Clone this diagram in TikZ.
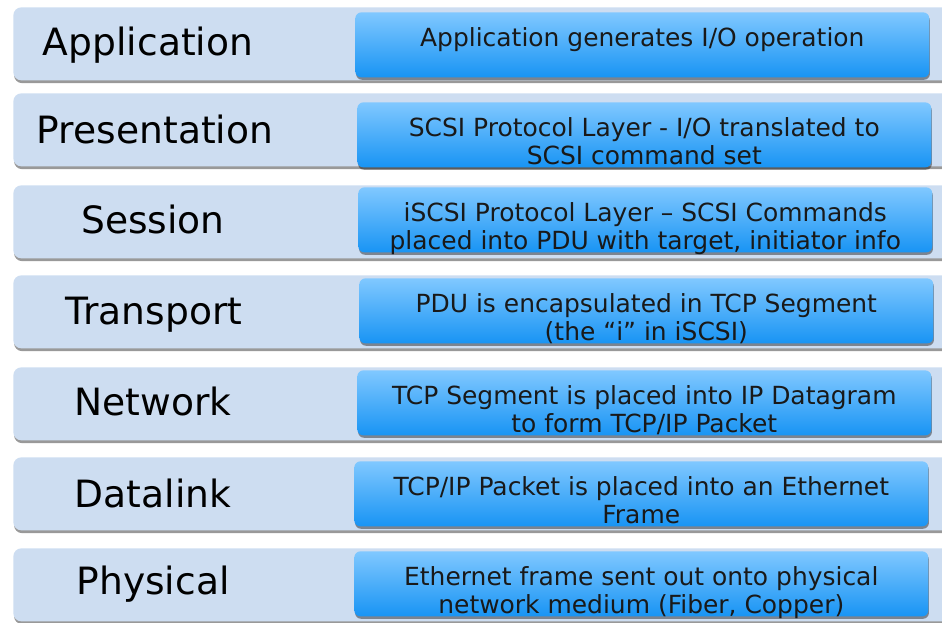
\documentclass[tikz,border=0pt]{standalone}
\usepackage{fontspec}
\setmainfont{DejaVu Sans}
\usepackage{tikz}
\usetikzlibrary{positioning,shadows}

\definecolor{layerfill}{RGB}{205,221,241}
\definecolor{boxtop}{RGB}{128,200,255}
\definecolor{boxbottom}{RGB}{24,148,244}

\tikzset{
  layerbox/.style={anchor=north west, fill=layerfill, rounded corners=0.16cm,
    minimum width=19.6cm, minimum height=1.46cm,
    drop shadow={shadow xshift=0.4pt, shadow yshift=-1.6pt, fill=black, opacity=0.4}},
  layername/.style={font=\fontsize{21.4}{24}\selectfont, inner sep=0pt, anchor=base},
  descbox/.style={anchor=north west, top color=boxtop, bottom color=boxbottom,
    rounded corners=0.12cm, minimum width=11.48cm, minimum height=1.3cm,
    drop shadow={shadow xshift=0.4pt, shadow yshift=-1.4pt, fill=black, opacity=0.4}},
  desctext/.style={font=\fontsize{14.2}{16}\selectfont, align=center, inner sep=0pt, text=black!90}
}

\begin{document}
\begin{tikzpicture}[x=0.02cm, y=-0.02cm]
\useasboundingbox (0,0) rectangle (942,622);

%% layer 1
\node[layerbox] (app) at (13,7) {};
\node[layername] (appname) at (148,55) {Application};
\node[descbox] (appbox) at (355,12) {};
\node[desctext, below=8.5pt of appbox.north] (apptext) {Application generates I/O operation};

%% layer 2
\node[layerbox] (pres) at (13,93) {};
\node[layername] (presname) at (155,143) {Presentation};
\node[descbox] (presbox) at (357,102) {};
\node[desctext, below=8.5pt of presbox.north] (prestext) {SCSI Protocol Layer - I/O translated to\\SCSI command set};

%% layer 3
\node[layerbox] (sess) at (13,185) {};
\node[layername] (sessname) at (153,233) {Session};
\node[descbox] (sessbox) at (358,187) {};
\node[desctext, below=8.5pt of sessbox.north] (sesstext) {iSCSI Protocol Layer – SCSI Commands\\placed into PDU with target, initiator info};

%% layer 4
\node[layerbox] (trans) at (13,275) {};
\node[layername] (transname) at (154,324) {Transport};
\node[descbox] (transbox) at (359,278) {};
\node[desctext, below=8.5pt of transbox.north] (transtext) {PDU is encapsulated in TCP Segment\\(the “i” in iSCSI)};

%% layer 5
\node[layerbox] (net) at (13,367) {};
\node[layername] (netname) at (153,415) {Network};
\node[descbox] (netbox) at (357,370) {};
\node[desctext, below=8.5pt of netbox.north] (nettext) {TCP Segment is placed into IP Datagram\\to form TCP/IP Packet};

%% layer 6
\node[layerbox] (link) at (13,457) {};
\node[layername] (linkname) at (153,507) {Datalink};
\node[descbox] (linkbox) at (354,461) {};
\node[desctext, below=8.5pt of linkbox.north] (linktext) {TCP/IP Packet is placed into an Ethernet\\Frame};

%% layer 7
\node[layerbox] (phys) at (13,548) {};
\node[layername] (physname) at (153,594) {Physical};
\node[descbox] (physbox) at (354,551) {};
\node[desctext, below=8.5pt of physbox.north] (phystext) {Ethernet frame sent out onto physical\\network medium (Fiber, Copper)};
\end{tikzpicture}
\end{document}
